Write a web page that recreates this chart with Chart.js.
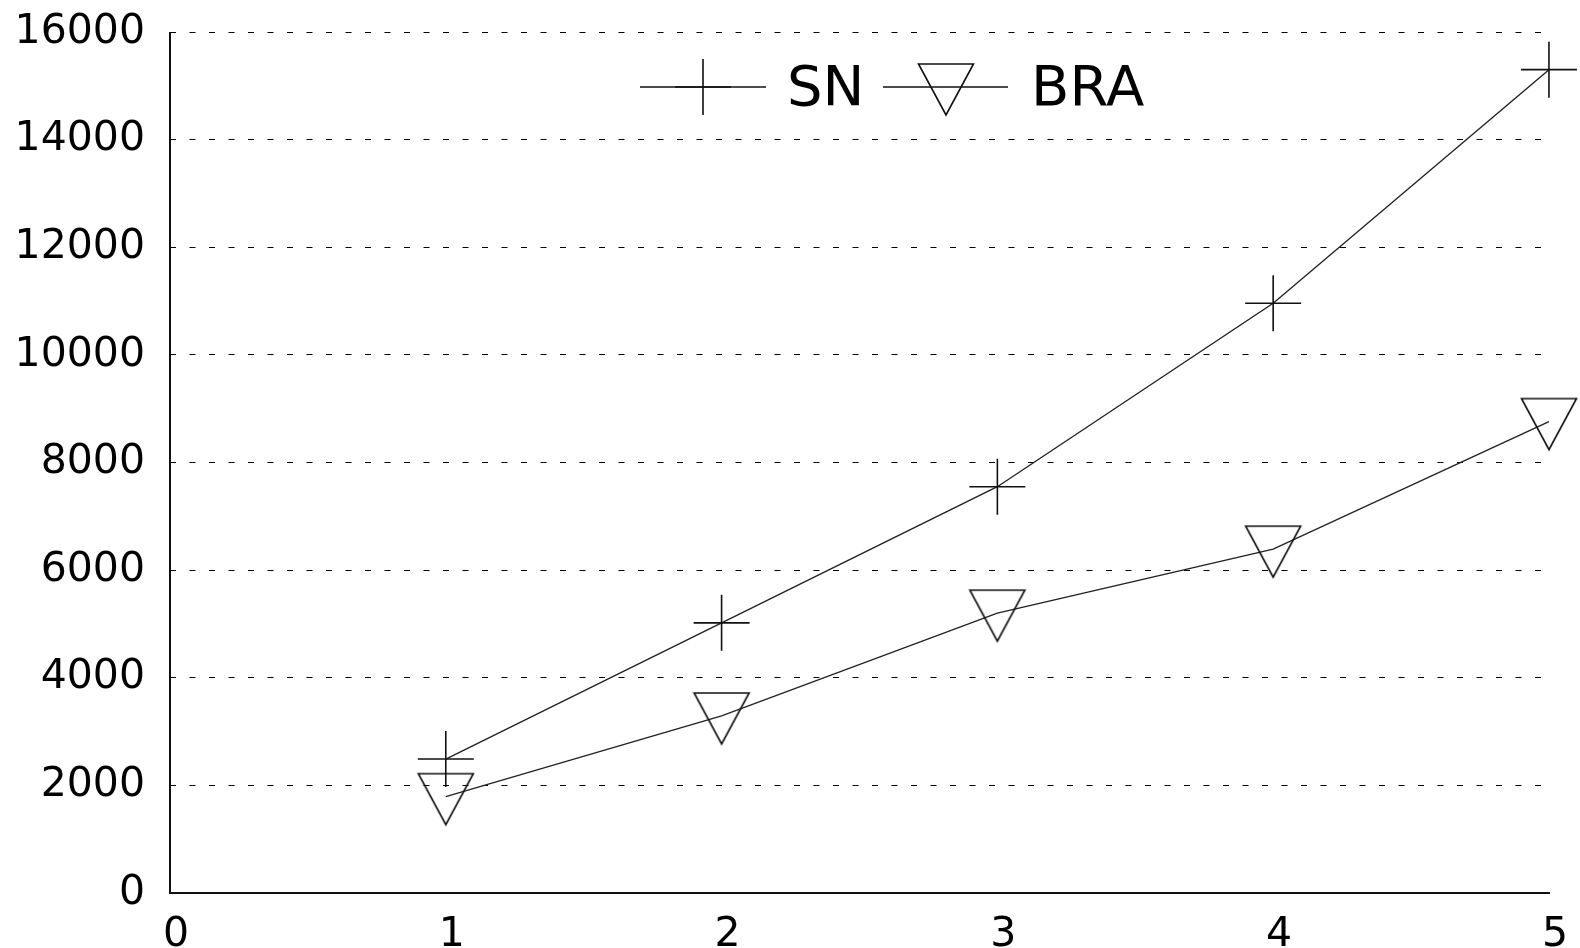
<!DOCTYPE html>
<html><head><meta charset="utf-8">
<script src="https://cdn.jsdelivr.net/npm/chart.js@4.4.0/dist/chart.umd.min.js"></script>
<style>html,body{margin:0;padding:0;background:#fff;}</style>
</head><body>
<canvas id="c" width="1580" height="948" style="display:block;width:1580px;height:948px"></canvas>
<script>
const xValues = [1, 2, 3, 4, 5];
const snValues = [2490, 5020, 7550, 10960, 15300];
const braValues = [1790, 3290, 5200, 6390, 8760];
const seriesLabels = ['SN', 'BRA'];
const yTickValues = [0, 2000, 4000, 6000, 8000, 10000, 12000, 14000, 16000];
const xTickValues = [0, 1, 2, 3, 4, 5];

const FONT = 'DejaVu Sans';

// Down-triangle marker as image (gnuplot style: center offset)
function makeTriangle() {
  const c = document.createElement('canvas');
  c.width = 64; c.height = 64;
  const g = c.getContext('2d');
  g.strokeStyle = '#111';
  g.lineWidth = 1.6;
  g.lineJoin = 'miter';
  g.beginPath();
  g.moveTo(4.5, 9);
  g.lineTo(59.5, 9);
  g.lineTo(32, 60);
  g.closePath();
  g.stroke();
  return c;
}
const triImg = makeTriangle();

const legendPlugin = {
  id: 'gpLegend',
  afterDatasetsDraw(chart) {
    const ctx = chart.ctx;
    ctx.save();
    const y = 87;
    ctx.strokeStyle = '#111';
    ctx.lineWidth = 1.4;
    // SN
    ctx.beginPath(); ctx.moveTo(640, y); ctx.lineTo(766, y); ctx.stroke();
    ctx.lineWidth = 1.6;
    ctx.beginPath();
    ctx.moveTo(703 - 28, y); ctx.lineTo(703 + 28, y);
    ctx.moveTo(703, y - 28); ctx.lineTo(703, y + 28);
    ctx.stroke();
    ctx.fillStyle = '#000';
    ctx.font = '56px "' + FONT + '"';
    ctx.textBaseline = 'alphabetic';
    ctx.textAlign = 'left';
    ctx.fillText(chart.data.datasets[0].label, 787, 104.5);
    // BRA
    ctx.lineWidth = 1.4;
    ctx.beginPath(); ctx.moveTo(883, y); ctx.lineTo(1008, y); ctx.stroke();
    ctx.drawImage(triImg, 946 - 32, y - 32);
    ctx.fillText(chart.data.datasets[1].label, 1031, 104.5);
    ctx.restore();
  }
};

const toPts = (vals) => vals.map((v, i) => ({x: xValues[i], y: v}));

new Chart(document.getElementById('c'), {
  type: 'line',
  data: {
    datasets: [
      {
        label: seriesLabels[0],
        data: toPts(snValues),
        borderColor: '#222',
        borderWidth: 1.4,
        pointStyle: 'cross',
        pointRadius: 28,
        pointBorderWidth: 1.6,
        pointBorderColor: '#111',
        pointBackgroundColor: 'transparent',
        tension: 0,
        fill: false,
        clip: false
      },
      {
        label: seriesLabels[1],
        data: toPts(braValues),
        borderColor: '#222',
        borderWidth: 1.4,
        pointStyle: triImg,
        pointRadius: 28,
        tension: 0,
        fill: false,
        clip: false
      }
    ]
  },
  options: {
    responsive: false,
    animation: false,
    events: [],
    layout: { padding: { top: 32, right: 30, left: 0, bottom: 0 } },
    plugins: { legend: { display: false }, tooltip: { enabled: false } },
    scales: {
      x: {
        type: 'linear',
        min: 0, max: 5,
        afterBuildTicks: (s) => { s.ticks = xTickValues.map(v => ({value: v})); },
        afterFit: (s) => { s.height = 55; },
        ticks: {
          color: '#000',
          font: { family: FONT, size: 41 },
          padding: 18,
          labelOffset: 6,
          maxRotation: 0,
          autoSkip: false
        },
        grid: {
          drawTicks: false,
          color: (c) => (c.tick && c.tick.value === 0) ? '#111' : 'rgba(0,0,0,0)',
          lineWidth: 2
        },
        border: { display: true, color: '#111', width: 2 }
      },
      y: {
        type: 'linear',
        min: 0, max: 16000,
        afterBuildTicks: (s) => { s.ticks = yTickValues.map(v => ({value: v})); },
        afterFit: (s) => { s.width = 170; s.paddingTop = 0; s.paddingBottom = 0; },
        ticks: {
          color: '#000',
          font: { family: FONT, size: 41, lineHeight: 0.5 },
          padding: 25,
          callback: (v) => String(v)
        },
        grid: {
          drawTicks: false,
          color: '#000',
          lineWidth: 1
        },
        border: { display: false, dash: [6, 13.5] }
      }
    }
  },
  plugins: [legendPlugin]
});
</script>
</body></html>
